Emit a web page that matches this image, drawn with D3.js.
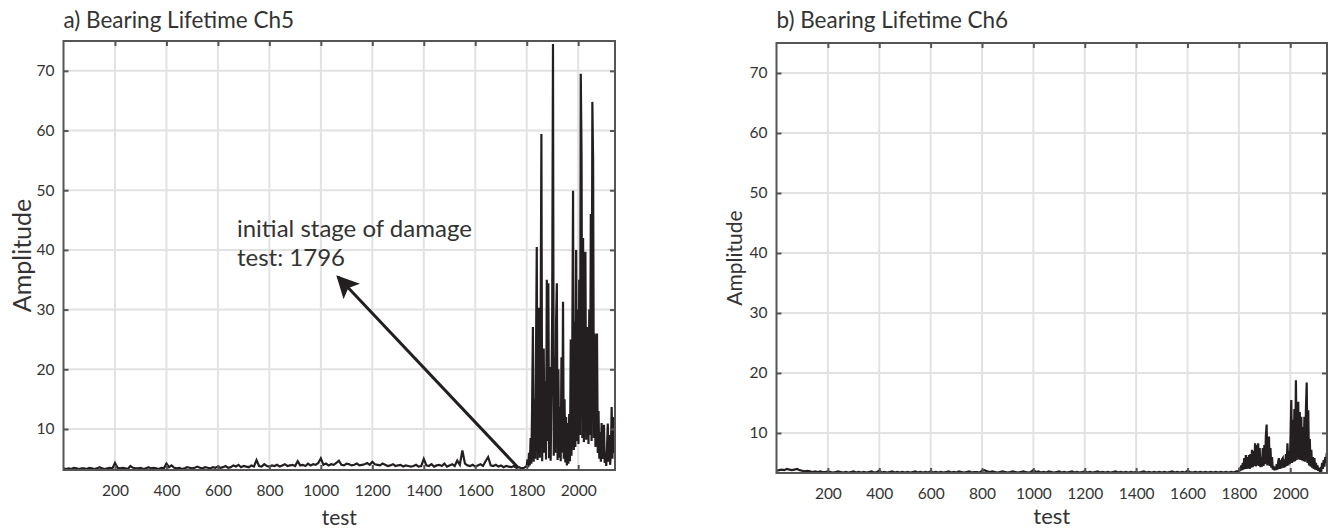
<!DOCTYPE html>
<html>
<head>
<meta charset="utf-8">
<script src="https://cdn.jsdelivr.net/npm/d3@7"></script>
<style>
  body { margin: 0; background: #fff; }
  svg text { font-family: Lato, "Open Sans", sans-serif; fill: #333; }
</style>
</head>
<body>
<svg id="chart" width="1336" height="529"></svg>
<script>
const svg = d3.select("#chart");

// x ticks and y ticks shared by both panels
const xTicks = [200, 400, 600, 800, 1000, 1200, 1400, 1600, 1800, 2000];
const yTicks = [10, 20, 30, 40, 50, 60, 70];
const xMax = 2143;

// sampled every 10 tests from 0 to 1790
const baseStep = 10;
const ch5Base = [
  3.4,3.3,3.4,3.3,3.5,3.4,3.3,3.4,3.4,3.3,3.5,3.4,3.3,3.4,3.6,3.4,3.3,3.4,3.5,3.4,
  4.3,3.5,3.4,3.5,3.4,3.3,3.8,3.5,3.4,3.4,3.5,3.3,3.4,3.6,3.4,3.5,3.4,3.3,3.5,3.4,
  4.2,3.6,3.9,3.5,3.4,3.5,3.3,3.4,3.6,3.5,3.4,3.5,3.7,3.5,3.4,3.6,3.5,3.4,3.6,3.5,
  3.7,3.5,3.6,3.8,3.5,3.6,3.9,3.7,4.0,3.6,3.8,3.7,3.6,3.9,3.7,4.8,3.8,3.7,4.1,3.8,
  3.7,3.9,3.8,4.0,3.7,3.9,4.1,3.8,3.9,4.0,3.8,4.6,3.9,4.0,3.8,4.2,3.9,4.1,4.0,4.3,
  5.1,4.0,4.2,3.9,4.1,4.0,4.3,4.7,4.0,3.9,4.2,4.1,3.9,4.0,4.2,3.9,4.0,4.1,4.3,4.0,
  4.5,4.1,4.0,3.9,4.2,4.0,3.8,3.9,4.1,3.8,3.9,4.0,3.7,3.9,3.8,3.7,3.8,4.0,3.7,3.8,
  5.0,3.9,3.8,4.1,3.7,3.9,4.0,3.8,4.2,3.7,3.9,4.1,3.8,4.7,4.0,6.4,4.2,3.9,3.8,4.0,
  3.7,3.9,4.1,3.8,4.6,5.3,3.9,3.8,4.0,3.7,3.9,3.6,3.8,3.7,3.6,3.8,3.5,3.6,3.4,3.5
];
const ch6Base = [
  3.7,3.8,3.9,3.8,4.0,3.9,3.8,3.9,4.0,3.8,3.7,3.6,3.7,3.6,3.5,3.6,3.5,3.6,3.5,3.5,
  3.6,3.5,3.4,3.5,3.6,3.5,3.4,3.5,3.4,3.5,3.6,3.4,3.5,3.4,3.5,3.4,3.5,3.6,3.4,3.5,
  3.7,3.4,3.5,3.4,3.5,3.6,3.4,3.5,3.4,3.5,3.4,3.5,3.4,3.5,3.6,3.4,3.5,3.4,3.5,3.4,
  3.6,3.4,3.5,3.4,3.5,3.4,3.5,3.6,3.4,3.5,3.4,3.6,3.5,3.4,3.5,3.6,3.4,3.5,3.5,3.4,
  3.7,3.8,3.6,3.5,3.6,3.5,3.4,3.5,3.6,3.5,3.4,3.5,3.6,3.5,3.4,3.5,3.6,3.5,3.4,3.5,
  3.8,3.5,3.6,3.4,3.5,3.4,3.6,3.5,3.4,3.5,3.6,3.4,3.5,3.4,3.5,3.6,3.4,3.5,3.4,3.5,
  3.6,3.4,3.5,3.4,3.5,3.6,3.4,3.5,3.4,3.5,3.4,3.5,3.6,3.4,3.5,3.4,3.5,3.4,3.5,3.4,
  3.5,3.4,3.5,3.6,3.4,3.5,3.4,3.5,3.4,3.5,3.4,3.5,3.4,3.5,3.6,3.4,3.5,3.4,3.5,3.4,
  3.7,3.5,3.4,3.5,3.4,3.5,3.4,3.5,3.4,3.5,3.4,3.5,3.4,3.5,3.4,3.5,3.4,3.5,3.4,3.6
];

// sampled every 3 tests from 1800 to 2142
const tailStart = 1800;
const tailStep = 3;
const ch5Tail = [
  3.8,4.9,3.6,6.0,3.9,8.5,4.2,14.0,27.1,4.5,15.0,5.0,22.0,40.5,4.8,18.0,30.3,5.2,26.0,59.4,
  4.6,17.0,23.5,6.0,18.0,4.9,35.0,8.0,34.4,5.1,20.4,4.7,16.0,30.0,74.5,5.5,22.0,6.0,28.0,34.4,
  4.8,20.0,5.2,13.7,4.6,22.0,6.0,31.3,5.0,15.0,4.4,12.0,3.9,11.0,4.2,12.5,4.6,25.0,5.5,24.0,
  49.9,6.5,28.0,7.0,40.0,8.0,30.0,7.5,35.0,9.0,69.5,56.0,8.5,42.0,7.8,33.0,39.7,8.2,22.0,27.1,
  7.5,30.0,9.0,46.0,8.0,64.8,55.0,8.5,26.0,7.0,20.0,26.0,6.0,13.0,5.0,9.5,4.5,11.0,5.0,8.0,
  10.7,4.3,6.0,3.8,7.0,10.9,4.5,9.0,4.0,6.0,13.7,5.0,12.0,6.0,10.5
];
const ch6Tail = [
  3.6,4.2,3.7,4.6,3.8,5.0,3.9,5.8,4.0,6.3,4.0,6.0,4.1,6.3,4.0,6.5,4.2,7.2,4.3,7.0,
  4.5,8.3,4.4,8.0,4.6,8.3,4.5,7.5,4.3,6.0,4.4,7.5,4.5,8.0,4.8,9.5,11.4,4.6,9.0,9.4,
  4.5,7.5,4.2,6.0,3.9,4.5,3.8,4.3,3.8,4.8,3.9,5.2,5.8,4.0,5.5,4.1,5.6,5.8,4.2,5.6,
  4.3,6.5,4.5,8.3,4.6,7.0,4.8,9.0,15.5,5.0,12.2,5.2,14.0,5.3,18.8,5.5,12.0,15.2,5.6,13.5,
  5.5,12.7,5.4,11.0,5.3,12.7,5.2,14.0,18.4,5.0,13.8,4.6,9.0,4.4,7.2,4.2,6.0,4.0,5.8,3.9,
  5.0,3.8,4.6,3.7,4.2,3.6,4.0,3.8,5.0,4.0,5.5,4.4,6.0,5.0,6.7
];

function series(base, tail) {
  const pts = base.map((v, i) => [i * baseStep, v]);
  tail.forEach((v, i) => pts.push([tailStart + i * tailStep, v]));
  return pts;
}

const panels = [
  {
    id: "a", title: "a) Bearing Lifetime Ch5", data: series(ch5Base, ch5Tail),
    left: 63.5, right: 615, top: 41, bottom: 470, yMin: 3.13,
    yLabelX: 31, yLabelSize: 25, xLabelY: 525, xLabelSize: 21,
    note: true
  },
  {
    id: "b", title: "b) Bearing Lifetime Ch6", data: series(ch6Base, ch6Tail),
    left: 776.5, right: 1327, top: 43, bottom: 473, yMin: 3.33,
    yLabelX: 742, yLabelSize: 21, xLabelY: 524, xLabelSize: 22,
    note: false
  }
];

const axisColor = "#555";
const fmt = d3.format("d");

panels.forEach(p => {
  const x = d3.scaleLinear().domain([0, xMax]).range([p.left, p.right]);
  const y = d3.scaleLinear().domain([p.yMin, 75]).range([p.bottom, p.top]);
  const g = svg.append("g");

  // grid
  g.append("g").selectAll("line").data(xTicks).join("line")
    .attr("x1", d => x(d)).attr("x2", d => x(d))
    .attr("y1", p.top).attr("y2", p.bottom)
    .attr("stroke", "#e2e2e2").attr("stroke-width", 2);
  g.append("g").selectAll("line").data(yTicks).join("line")
    .attr("x1", p.left).attr("x2", p.right)
    .attr("y1", d => y(d)).attr("y2", d => y(d))
    .attr("stroke", "#e2e2e2").attr("stroke-width", 2);

  // data line
  g.append("clipPath").attr("id", "clip-" + p.id)
    .append("rect").attr("x", p.left).attr("y", p.top)
    .attr("width", p.right - p.left).attr("height", p.bottom - p.top);
  g.append("path")
    .datum(p.data)
    .attr("clip-path", `url(#clip-${p.id})`)
    .attr("fill", "none")
    .attr("stroke", "#231f20")
    .attr("stroke-width", 2.2)
    .attr("stroke-linejoin", "miter")
    .attr("d", d3.line().x(d => x(d[0])).y(d => y(d[1])));

  // axes with inward ticks
  const axB = g.append("g").attr("transform", `translate(0,${p.bottom})`)
    .call(d3.axisBottom(x).tickValues(xTicks).tickSize(-5).tickPadding(15).tickFormat(fmt));
  const axL = g.append("g").attr("transform", `translate(${p.left},0)`)
    .call(d3.axisLeft(y).tickValues(yTicks).tickSize(-5).tickPadding(9).tickFormat(fmt));
  const axT = g.append("g").attr("transform", `translate(0,${p.top})`)
    .call(d3.axisTop(x).tickValues(xTicks).tickSize(-5).tickFormat(""));
  const axR = g.append("g").attr("transform", `translate(${p.right},0)`)
    .call(d3.axisRight(y).tickValues(yTicks).tickSize(-5).tickFormat(""));
  [axB, axL, axT, axR].forEach(a => {
    a.select(".domain").remove();
    a.selectAll(".tick line").attr("stroke", axisColor).attr("stroke-width", 2);
    a.selectAll("text").attr("font-size", 15.5).attr("fill", "#444")
      .attr("font-family", "Lato, 'Open Sans', sans-serif");
  });

  // box
  g.append("rect")
    .attr("x", p.left).attr("y", p.top)
    .attr("width", p.right - p.left).attr("height", p.bottom - p.top)
    .attr("fill", "none").attr("stroke", axisColor).attr("stroke-width", 2);

  // titles and labels
  g.append("text").attr("x", p.left).attr("y", 28)
    .attr("font-size", 22.5).text(p.title);
  g.append("text")
    .attr("x", (p.left + p.right) / 2).attr("y", p.xLabelY)
    .attr("text-anchor", "middle").attr("font-size", p.xLabelSize).attr("fill", "#444")
    .text("test");
  g.append("text")
    .attr("transform", `translate(${p.yLabelX},${(p.top + p.bottom) / 2}) rotate(-90)`)
    .attr("text-anchor", "middle").attr("font-size", p.yLabelSize).attr("fill", "#444")
    .text("Amplitude");

  if (p.note) {
    const defs = svg.append("defs");
    defs.append("marker").attr("id", "head")
      .attr("viewBox", "0 0 10 10").attr("refX", 9).attr("refY", 5)
      .attr("markerWidth", 7.5).attr("markerHeight", 7.5)
      .attr("markerUnits", "strokeWidth").attr("orient", "auto")
      .append("path").attr("d", "M0,0 L10,5 L0,10 L2.2,5 z").attr("fill", "#231f20");
    g.append("line")
      .attr("x1", x(1765)).attr("y1", y(3.6))
      .attr("x2", x(1066)).attr("y2", y(35.5))
      .attr("stroke", "#231f20").attr("stroke-width", 3)
      .attr("marker-end", "url(#head)");
    g.append("text").attr("x", x(674)).attr("y", y(42.2))
      .attr("font-size", 24).attr("fill", "#231f20").text("initial stage of damage");
    g.append("text").attr("x", x(674)).attr("y", y(37.3))
      .attr("font-size", 24).attr("fill", "#231f20").text("test: 1796");
  }
});
</script>
</body>
</html>
